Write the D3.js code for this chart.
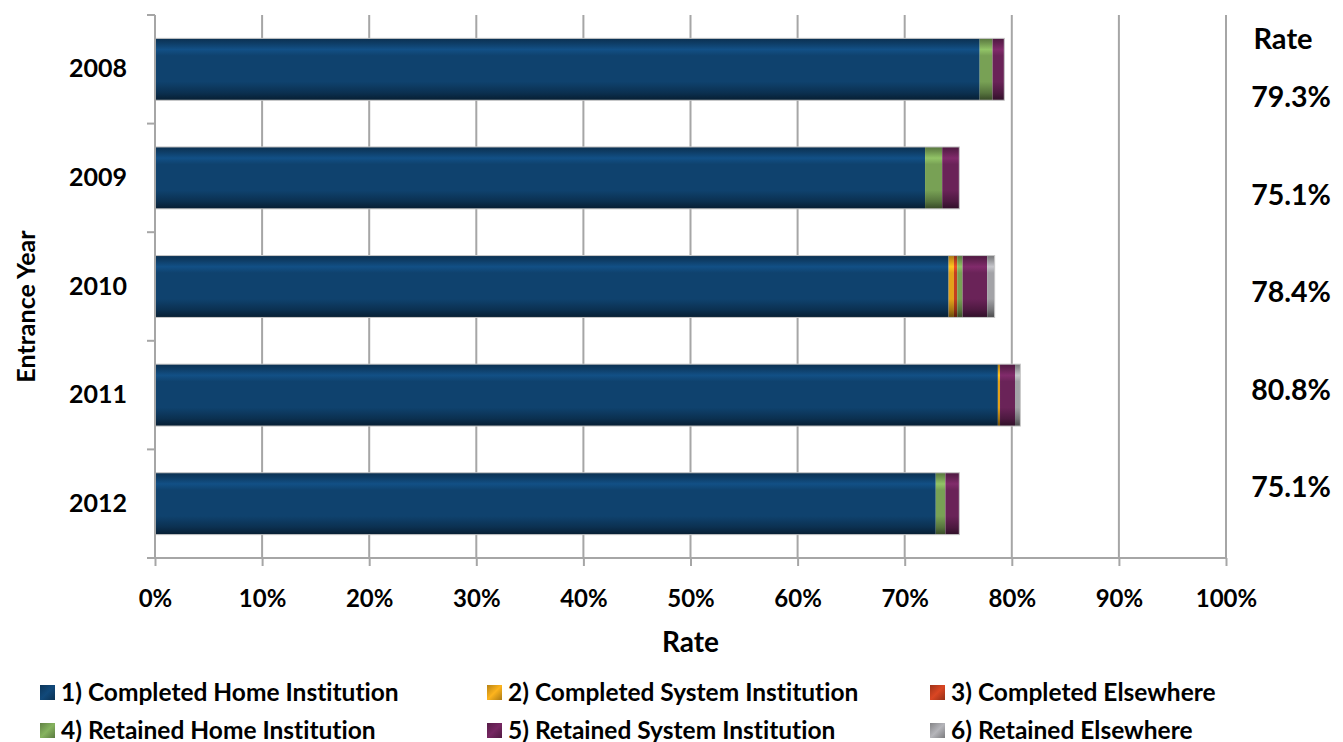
<!DOCTYPE html>
<html>
<head>
<meta charset="utf-8">
<script src="https://cdn.jsdelivr.net/npm/d3@7"></script>
<style>
  html, body { margin: 0; padding: 0; background: #fff; }
  svg { display: block; font-family: Lato, "Open Sans", sans-serif; font-weight: bold;
        font-variant-ligatures: none; font-feature-settings: "liga" 0, "dlig" 0; }
</style>
</head>
<body>
<svg id="chart" width="1343" height="742"></svg>
<script>
// Entrance cohorts and stacked outcome shares (percent)
const years = ["2008", "2009", "2010", "2011", "2012"];
const seriesNames = [
  "1) Completed Home Institution",
  "2) Completed System Institution",
  "3) Completed Elsewhere",
  "4) Retained Home Institution",
  "5) Retained System Institution",
  "6) Retained Elsewhere"
];
const completedHome   = [77.0, 71.9, 74.1, 78.7, 72.9];
const completedSystem = [0.0, 0.0, 0.5, 0.2, 0.0];
const completedElse   = [0.0, 0.0, 0.3, 0.0, 0.0];
const retainedHome    = [1.2, 1.6, 0.5, 0.0, 0.9];
const retainedSystem  = [1.1, 1.6, 2.3, 1.4, 1.3];
const retainedElse    = [0.0, 0.0, 0.7, 0.5, 0.0];
const rateLabels = ["79.3%", "75.1%", "78.4%", "80.8%", "75.1%"];
const xTicks = [0, 10, 20, 30, 40, 50, 60, 70, 80, 90, 100];

const seriesValues = [completedHome, completedSystem, completedElse, retainedHome, retainedSystem, retainedElse];
const baseColors = ["#0f426e", "#e3a21a", "#c43f1f", "#78a155", "#6a2358", "#a3a3a7"];

const svg = d3.select("#chart");
const margin = { left: 155, right: 117, top: 15, bottom: 184 };
const W = 1343, H = 742;
const plotRight = W - margin.right;
const plotBottom = H - margin.bottom;

const x = d3.scaleLinear().domain([0, 100]).range([margin.left, plotRight]);
const y = d3.scaleBand().domain(years).range([margin.top, plotBottom]).paddingInner(0.43).paddingOuter(0.215);
const yOuter = d3.scaleBand().domain(years).range([margin.top, plotBottom]);

// Stack the series
const rows = years.map((yr, i) => {
  const r = { year: yr };
  seriesNames.forEach((s, k) => { r[s] = seriesValues[k][i]; });
  return r;
});
const stacked = d3.stack().keys(seriesNames)(rows);

// Gradients giving each bar its glossy banded look
const defs = svg.append("defs");
baseColors.forEach((c, k) => {
  const base = d3.color(c);
  const g = defs.append("linearGradient").attr("id", "grad" + k)
    .attr("x1", 0).attr("y1", 0).attr("x2", 0).attr("y2", 1);
  g.append("stop").attr("offset", "0%").attr("stop-color", base.darker(0.9));
  g.append("stop").attr("offset", "8%").attr("stop-color", base.darker(0.2));
  g.append("stop").attr("offset", "18%").attr("stop-color", base.brighter(0.55));
  g.append("stop").attr("offset", "28%").attr("stop-color", base);
  g.append("stop").attr("offset", "70%").attr("stop-color", base);
  g.append("stop").attr("offset", "88%").attr("stop-color", base.darker(0.9));
  g.append("stop").attr("offset", "100%").attr("stop-color", base.darker(2.2));

  const sw = defs.append("linearGradient").attr("id", "sw" + k)
    .attr("x1", 0).attr("y1", 0).attr("x2", 1).attr("y2", 1);
  sw.append("stop").attr("offset", "0%").attr("stop-color", base.darker(0.6));
  sw.append("stop").attr("offset", "50%").attr("stop-color", base.brighter(0.3));
  sw.append("stop").attr("offset", "100%").attr("stop-color", base.darker(0.8));
});

// Vertical gridlines
svg.append("g").selectAll("line").data(xTicks.filter(t => t > 0)).join("line")
  .attr("x1", d => x(d)).attr("x2", d => x(d))
  .attr("y1", margin.top).attr("y2", plotBottom)
  .attr("stroke", "#a6a6a6").attr("stroke-width", 2);

// Bars
svg.append("g").selectAll("g").data(stacked).join("g")
  .attr("fill", (d, k) => `url(#grad${k})`)
  .selectAll("rect").data(d => d.filter(p => p[1] - p[0] > 0)).join("rect")
  .attr("x", p => x(p[0]))
  .attr("width", p => x(p[1]) - x(p[0]))
  .attr("y", p => y(p.data.year))
  .attr("height", y.bandwidth());

// Light outline around each full bar
svg.append("g").selectAll("rect").data(rows).join("rect")
  .attr("x", x(0))
  .attr("width", r => x(d3.sum(seriesNames, s => r[s])) - x(0))
  .attr("y", r => y(r.year))
  .attr("height", y.bandwidth())
  .attr("fill", "none").attr("stroke", "#c8c8c8").attr("stroke-width", 1);

// X axis
const xAxis = svg.append("g").attr("transform", `translate(0,${plotBottom})`)
  .call(d3.axisBottom(x).tickValues(xTicks).tickSize(8).tickPadding(24).tickFormat(d => d + "%"));
xAxis.select(".domain").attr("stroke", "#a6a6a6").attr("stroke-width", 2)
  .attr("d", `M${margin.left - 8},0H${plotRight}`);
xAxis.selectAll(".tick line").attr("stroke", "#a6a6a6").attr("stroke-width", 2);
xAxis.selectAll(".tick text").attr("font-size", 24).attr("font-family", "Lato, sans-serif")
  .attr("font-weight", "bold").attr("fill", "#000");

// Y axis
const yAxis = svg.append("g").attr("transform", `translate(${margin.left},0)`)
  .call(d3.axisLeft(yOuter).tickSize(0).tickPadding(28));
yAxis.select(".domain").attr("stroke", "#a6a6a6").attr("stroke-width", 2)
  .attr("d", `M0,${margin.top}V${plotBottom}`);
yAxis.selectAll(".tick text").attr("font-size", 25).attr("font-family", "Lato, sans-serif")
  .attr("font-weight", "bold").attr("fill", "#000");
// Category boundary ticks
svg.append("g").selectAll("line").data(years).join("line")
  .attr("x1", margin.left - 8).attr("x2", margin.left)
  .attr("y1", d => yOuter(d)).attr("y2", d => yOuter(d))
  .attr("stroke", "#a6a6a6").attr("stroke-width", 2);

// Axis titles
svg.append("text").attr("x", x(50)).attr("y", 652).attr("text-anchor", "middle")
  .attr("font-size", 28).text("Rate");
svg.append("text").attr("transform", `translate(35,${(margin.top + plotBottom) / 2 + 20}) rotate(-90)`)
  .attr("text-anchor", "middle").attr("font-size", 25).text("Entrance Year");

// Rate column on the right
const rateY = d3.scalePoint().domain(years).range([97, 487]);
svg.append("text").attr("x", 1283).attr("y", 49).attr("text-anchor", "middle")
  .attr("font-size", 29).text("Rate");
svg.append("g").selectAll("text").data(rateLabels).join("text")
  .attr("x", 1291).attr("y", (d, i) => rateY(years[i]) + 10)
  .attr("text-anchor", "middle").attr("font-size", 28.5).text(d => d);

// Legend: three columns, two rows
const legCols = [40, 487, 930];
const leg = svg.append("g").selectAll("g").data(seriesNames).join("g")
  .attr("transform", (d, i) => `translate(${legCols[i % 3]},${i < 3 ? 692 : 730})`);
leg.append("rect").attr("x", 0).attr("y", -7).attr("width", 15).attr("height", 15)
  .attr("fill", (d, i) => `url(#sw${i})`);
leg.append("text").attr("x", 21).attr("y", 8.5).attr("font-size", 24.5).text(d => d);
</script>
</body>
</html>
